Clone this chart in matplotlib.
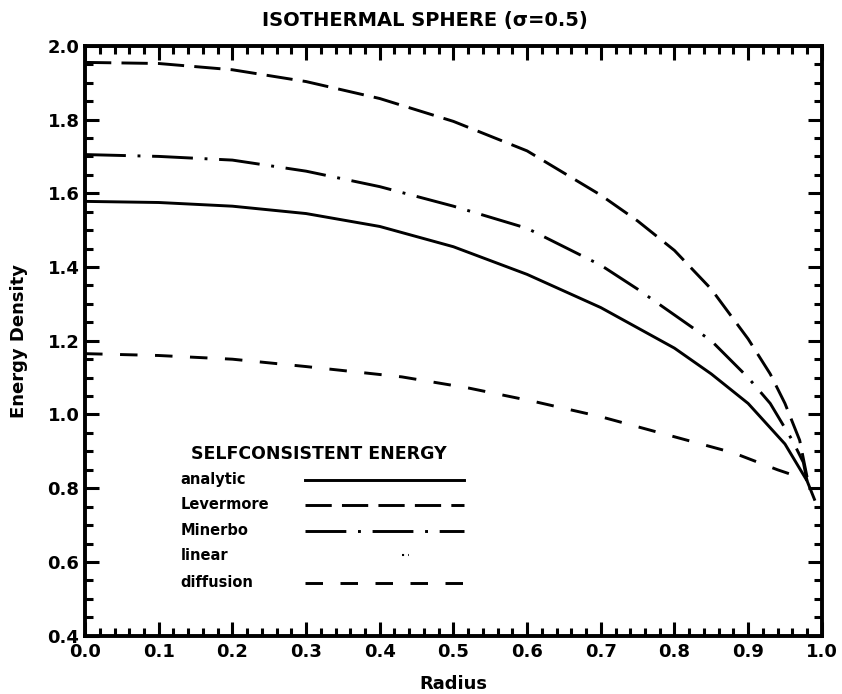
import numpy as np
import matplotlib.pyplot as plt
from matplotlib.ticker import MultipleLocator

# values
r_lev = [0.0, 0.1, 0.2, 0.3, 0.4, 0.5, 0.6, 0.7, 0.75, 0.8, 0.85, 0.9, 0.93, 0.95, 0.97, 0.98]
e_lev = [1.955, 1.952, 1.935, 1.903, 1.857, 1.795, 1.715, 1.595, 1.525, 1.445, 1.34, 1.205, 1.11, 1.03, 0.93, 0.83]

r_min = [0.0, 0.1, 0.2, 0.3, 0.4, 0.5, 0.6, 0.7, 0.75, 0.8, 0.85, 0.9, 0.93, 0.96, 0.975, 0.98]
e_min = [1.705, 1.70, 1.69, 1.66, 1.618, 1.565, 1.505, 1.405, 1.34, 1.27, 1.2, 1.1, 1.03, 0.93, 0.87, 0.82]

r_ana = [0.0, 0.1, 0.2, 0.3, 0.4, 0.5, 0.6, 0.7, 0.8, 0.85, 0.9, 0.95, 0.98, 0.99]
e_ana = [1.578, 1.575, 1.565, 1.545, 1.51, 1.455, 1.38, 1.29, 1.18, 1.11, 1.03, 0.92, 0.82, 0.77]

r_dif = [0.0, 0.1, 0.2, 0.3, 0.43, 0.52, 0.61, 0.7, 0.79, 0.88, 0.94, 0.98]
e_dif = [1.165, 1.16, 1.15, 1.13, 1.102, 1.072, 1.035, 0.994, 0.945, 0.896, 0.85, 0.823]

legend_names = ['analytic', 'Levermore', 'Minerbo', 'linear', 'diffusion']

plt.rcParams['font.family'] = 'DejaVu Sans'
plt.rcParams['font.weight'] = 'bold'

fig = plt.figure(figsize=(8.42, 6.94), dpi=100)
ax = fig.add_axes([0.101, 0.084, 0.875, 0.85])

lw = 2.1
lev_ls = (0, (9, 3.5))
min_ls = (0, (14, 4, 1, 4))
dif_ls = (0, (6, 6))
ax.plot(r_ana, e_ana, color='black', lw=lw, ls='-')
ax.plot(r_lev, e_lev, color='black', lw=lw, ls=lev_ls)
ax.plot(r_min, e_min, color='black', lw=lw, ls=min_ls)
ax.plot(r_dif, e_dif, color='black', lw=lw, ls=dif_ls)

ax.set_xlim(0, 1.0)
ax.set_ylim(0.4, 2.0)
ax.xaxis.set_major_locator(MultipleLocator(0.1))
ax.xaxis.set_minor_locator(MultipleLocator(0.02))
ax.yaxis.set_major_locator(MultipleLocator(0.2))
ax.yaxis.set_minor_locator(MultipleLocator(0.05))
ax.tick_params(which='both', direction='in', top=True, right=True, width=2.2, color='black')
ax.tick_params(which='major', length=10, labelsize=13)
ax.tick_params(axis='x', which='major', pad=5)
ax.tick_params(axis='y', which='major', pad=4)
ax.tick_params(which='minor', length=6)
for s in ax.spines.values():
    s.set_linewidth(2.8)

ax.set_xlabel('Radius', fontsize=13, fontweight='bold', labelpad=10)
ax.set_ylabel('Energy Density', fontsize=13, fontweight='bold', labelpad=14)
fig.text(0.505, 0.97, 'ISOTHERMAL SPHERE (σ=0.5)', ha='center', va='center',
         fontsize=14, fontweight='bold')

# hand-made key, like the original plot
ax.text(0.317, 0.308, 'SELFCONSISTENT ENERGY', transform=ax.transAxes,
        ha='center', va='center', fontsize=12.5, fontweight='bold')
rows_y = [0.264, 0.222, 0.178, 0.136, 0.09]
styles = ['-', lev_ls, min_ls, None, dif_ls]
for name, yy, st in zip(legend_names, rows_y, styles):
    ax.text(0.13, yy, name, transform=ax.transAxes, ha='left', va='center',
            fontsize=10.5, fontweight='bold')
    if st is None:
        ax.plot([0.43, 0.44], [yy, yy], transform=ax.transAxes, color='black',
                lw=1.5, ls=(0, (1, 2)))
    else:
        ax.plot([0.298, 0.515], [yy, yy], transform=ax.transAxes, color='black',
                lw=lw, ls=st)

fig.savefig('out.png', dpi=100)
